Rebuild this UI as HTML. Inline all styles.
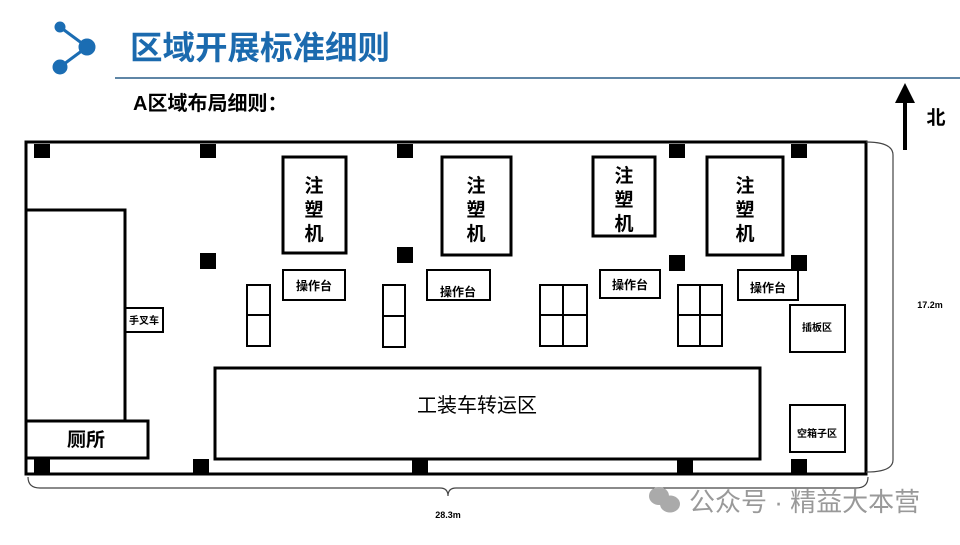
<!DOCTYPE html><html><head><meta charset="utf-8"><style>
body{margin:0;width:960px;height:540px;background:#fff;overflow:hidden;font-family:"Liberation Sans","Noto Sans CJK SC",sans-serif}
</style></head><body>
<svg width="960" height="540" viewBox="0 0 960 540" xmlns="http://www.w3.org/2000/svg" font-family="Liberation Sans, Noto Sans CJK SC, sans-serif">
<g fill="#1b6db3" stroke="#1b6db3" stroke-width="3">
<line x1="60" y1="27" x2="87" y2="47"/><line x1="87" y1="47" x2="60" y2="67"/>
<circle cx="60" cy="27" r="4"/><circle cx="87" cy="47" r="7"/><circle cx="60" cy="67" r="6"/></g>
<text x="130" y="59" font-size="32.5" font-weight="bold" fill="#1b6aae">区域开展标准细则</text>
<line x1="115" y1="78" x2="960" y2="78" stroke="#2a5f88" stroke-width="1.5"/>
<text x="133" y="110" font-size="20" font-weight="bold">A区域布局细则：</text>
<g fill="none" stroke="#000" stroke-width="3">
<rect x="26" y="142" width="840" height="332"/>
<rect x="26" y="210" width="99" height="211"/>
<rect x="26" y="421" width="122" height="37"/>
<rect x="125" y="308" width="38" height="24" stroke-width="2"/>
<rect x="283" y="157" width="63" height="96"/><rect x="442" y="157" width="69" height="98"/>
<rect x="593" y="157" width="62" height="79"/><rect x="707" y="157" width="76" height="98"/>
<rect x="283" y="270" width="62" height="30" stroke-width="2"/><rect x="427" y="270" width="63" height="30" stroke-width="2"/>
<rect x="600" y="270" width="60" height="28" stroke-width="2"/><rect x="738" y="270" width="60" height="30" stroke-width="2"/>
<rect x="247" y="285" width="23" height="61" stroke-width="2"/><line x1="247" y1="315" x2="270" y2="315" stroke-width="2"/>
<rect x="383" y="285" width="22" height="62" stroke-width="2"/><line x1="383" y1="316" x2="405" y2="316" stroke-width="2"/>
<rect x="540" y="285" width="47" height="61" stroke-width="2"/><line x1="540" y1="315" x2="587" y2="315" stroke-width="2"/><line x1="563" y1="285" x2="563" y2="346" stroke-width="2"/>
<rect x="678" y="285" width="44" height="61" stroke-width="2"/><line x1="678" y1="315" x2="722" y2="315" stroke-width="2"/><line x1="700" y1="285" x2="700" y2="346" stroke-width="2"/>
<rect x="215" y="368" width="545" height="91"/>
<rect x="790" y="305" width="55" height="47" stroke-width="2"/><rect x="790" y="405" width="55" height="47" stroke-width="2"/>
</g>
<g fill="#000">
<rect x="34" y="144" width="16" height="14"/><rect x="200" y="144" width="16" height="14"/><rect x="397" y="144" width="16" height="14"/><rect x="669" y="144" width="16" height="14"/><rect x="791" y="144" width="16" height="14"/>
<rect x="200" y="253" width="16" height="16"/><rect x="397" y="247" width="16" height="16"/><rect x="669" y="255" width="16" height="16"/><rect x="791" y="255" width="16" height="16"/>
<rect x="34" y="459" width="16" height="14"/><rect x="193" y="459" width="16" height="14"/><rect x="412" y="459" width="16" height="14"/><rect x="677" y="459" width="16" height="14"/><rect x="791" y="459" width="16" height="14"/>
</g>
<g font-weight="bold" text-anchor="middle">
<g font-size="19"><text x="314" y="192">注</text><text x="314" y="216">塑</text><text x="314" y="240">机</text>
<text x="476" y="192">注</text><text x="476" y="216">塑</text><text x="476" y="240">机</text>
<text x="624" y="182">注</text><text x="624" y="206">塑</text><text x="624" y="230">机</text>
<text x="745" y="192">注</text><text x="745" y="216">塑</text><text x="745" y="240">机</text></g>
<g font-size="12"><text x="314" y="290">操作台</text><text x="458" y="296">操作台</text><text x="630" y="289">操作台</text><text x="768" y="292">操作台</text></g>
<text x="144" y="324" font-size="10">手叉车</text>
<text x="817" y="331" font-size="10">插板区</text><text x="817" y="437" font-size="10">空箱子区</text>
<text x="86" y="446" font-size="19">厕所</text>
<text x="477" y="412" font-size="20" font-weight="normal">工装车转运区</text>
<text x="930" y="308" font-size="9">17.2m</text><text x="448" y="518" font-size="9">28.3m</text>
</g>
<g fill="none" stroke="#444" stroke-width="1.2">
<path d="M866 142 Q893 142 893 155 L893 460 Q893 472 866 472"/>
<path d="M28 477 Q28 488 40 488 L440 488 Q448 488 448 496 Q448 488 456 488 L856 488 Q868 488 868 477"/>
</g>
<line x1="905" y1="150" x2="905" y2="92" stroke="#000" stroke-width="4"/>
<polygon points="905,83 895,103 915,103" fill="#000"/>
<text x="936" y="124" font-size="19" font-weight="bold" text-anchor="middle">北</text>
<g fill="#aaa"><ellipse cx="659" cy="496" rx="10" ry="9"/><ellipse cx="670" cy="504" rx="10" ry="8.5"/></g>
<text x="689" y="511" font-size="26" fill="#999">公众号 · 精益大本营</text>
</svg></body></html>
